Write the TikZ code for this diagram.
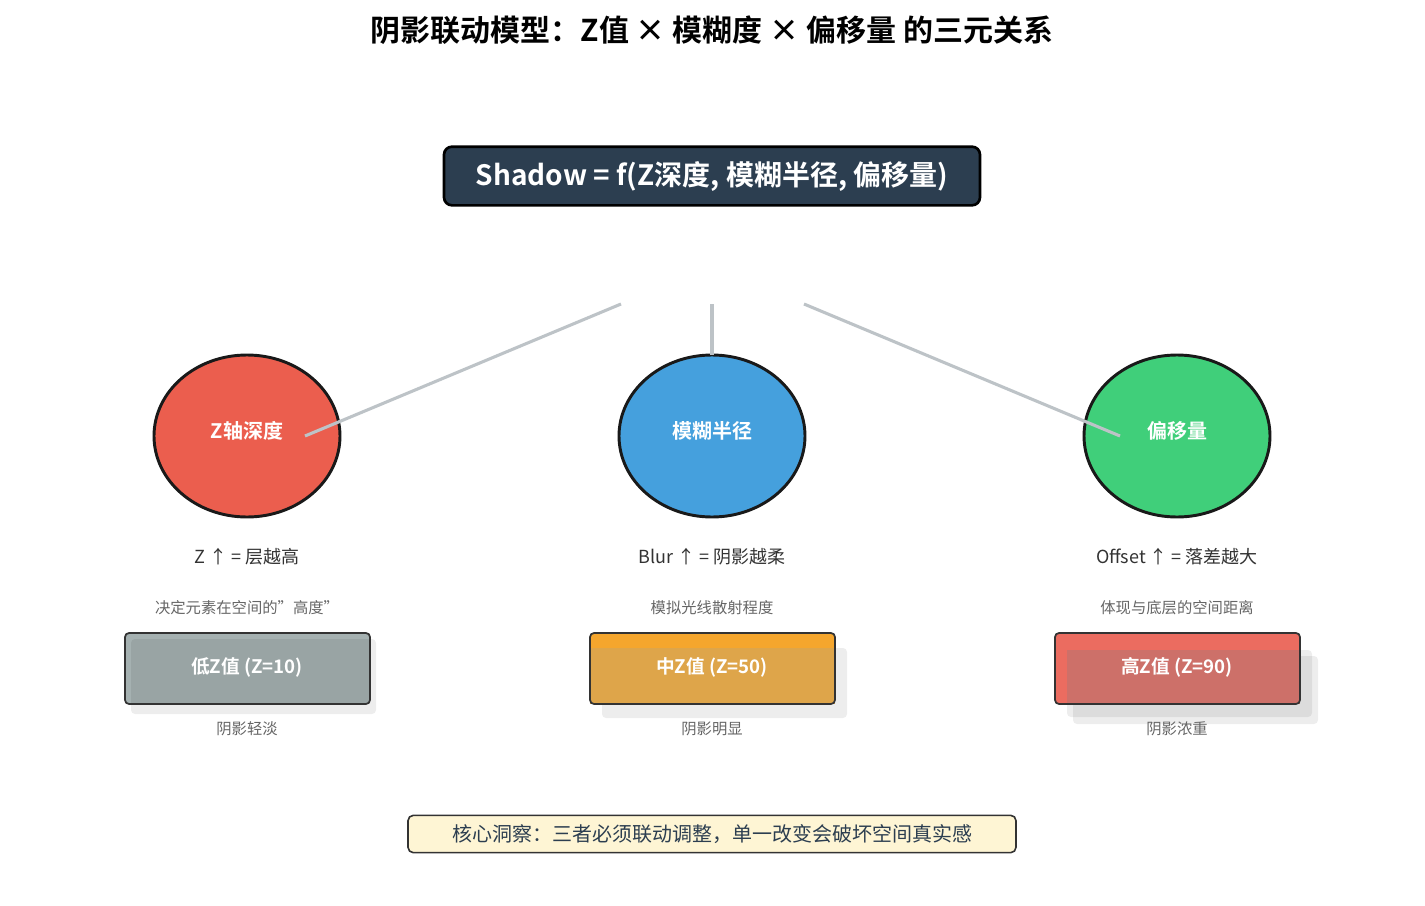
\documentclass[tikz,border=0pt]{standalone}
\usepackage{fontspec}
\setmainfont{Noto Sans CJK SC}
\newfontfamily\cjkb{Noto Sans CJK SC Bold}
\definecolor{navy}{RGB}{44,62,80}
\definecolor{cl}{RGB}{189,195,199}
\definecolor{cr}{RGB}{235,94,78}
\definecolor{cb}{RGB}{69,160,221}
\definecolor{cg}{RGB}{64,207,122}
\definecolor{bgray}{RGB}{165,177,177}
\definecolor{borange}{RGB}{222,165,74}
\definecolor{borange2}{RGB}{245,166,45}
\definecolor{bred}{RGB}{205,112,105}
\definecolor{bred2}{RGB}{235,108,96}
\definecolor{cream}{RGB}{254,245,212}
\definecolor{dk}{RGB}{51,51,51}
\definecolor{md}{RGB}{102,102,102}
\begin{document}
\begin{tikzpicture}[x=0.75pt,y=-0.75pt,
  lab/.style={font=\cjkb\fontsize{15}{15}\selectfont, text=white},
  blab/.style={font=\cjkb\fontsize{14}{14}\selectfont, text=white},
  sub/.style={font=\fontsize{13.5}{14}\selectfont, text=dk},
  note/.style={font=\fontsize{11.5}{12}\selectfont, text=md},
  bx/.style={draw=dk, line width=1.3pt, rounded corners=3pt},
  sh/.style={fill=black, opacity=0.07, rounded corners=3pt},
  conn/.style={draw=cl, line width=2.3pt},
  ell/.style={draw=black!90, line width=2.2pt}
]
\useasboundingbox[fill=white] (0,0) rectangle (1425,906);

\node (title) at (712,30) {\cjkb\fontsize{22.5}{24}\selectfont 阴影联动模型：Z值 × 模糊度 × 偏移量 的三元关系};

\node[fill=navy, draw=black, line width=2pt, rounded corners=6pt, minimum width=402pt, minimum height=44pt, text=white, font=\cjkb\fontsize{21}{22}\selectfont] (f) at (712,176) {Shadow = f(Z深度, 模糊半径, 偏移量)};

\coordinate (a1) at (621,304); \coordinate (a2) at (712,304); \coordinate (a3) at (804,304);

\draw[ell, fill=cr] (247,436) ellipse [x radius=93, y radius=81];
\draw[ell, fill=cb] (712,436) ellipse [x radius=93, y radius=81];
\draw[ell, fill=cg] (1177,436) ellipse [x radius=93, y radius=81];
\node[lab] (e1) at (247,431) {Z轴深度};
\node[lab] (e2) at (712,431) {模糊半径};
\node[lab] (e3) at (1177,431) {偏移量};
\coordinate (t1) at (305,436); \coordinate (t2) at (712,355); \coordinate (t3) at (1120,436);
\draw[conn] (a1) -- (t1);
\draw[conn] (a2) -- (t2);
\draw[conn] (a3) -- (t3);

\node[sub] (s1) at (247,557) {Z ↑ = 层越高};
\node[sub] (s2) at (712,557) {Blur ↑ = 阴影越柔};
\node[sub] (s3) at (1177,557) {Offset ↑ = 落差越大};
\node[note] (n1) at (247,608) {决定元素在空间的"高度"};
\node[note] (n2) at (712,608) {模拟光线散射程度};
\node[note] (n3) at (1177,608) {体现与底层的空间距离};

\fill[bgray, rounded corners=3pt] (125,633) rectangle (370,704);
\fill[sh] (131,639) rectangle (376,714);
\draw[bx] (125,633) rectangle (370,704);
\node[blab] (b1) at (247,667) {低Z值 (Z=10)};

\fill[borange2, rounded corners=3pt] (590,633) rectangle (835,704);
\fill[sh] (602,648) rectangle (847,718);
\fill[borange] (602,648) rectangle (835,704);
\fill[borange] (590,648) rectangle (602,704);
\draw[bx] (590,633) rectangle (835,704);
\node[blab] (b2) at (712,667) {中Z值 (Z=50)};

\fill[bred2, rounded corners=3pt] (1055,633) rectangle (1300,704);
\fill[sh] (1067,650) rectangle (1312,717);
\fill[sh] (1073,656) rectangle (1318,724);
\fill[bred] (1067,650) rectangle (1300,704);
\draw[bx] (1055,633) rectangle (1300,704);
\node[blab] (b3) at (1177,667) {高Z值 (Z=90)};

\node[note] (c1) at (247,729) {阴影轻淡};
\node[note] (c2) at (712,729) {阴影明显};
\node[note] (c3) at (1177,729) {阴影浓重};

\node[fill=cream, draw=dk, line width=1.2pt, rounded corners=4pt, minimum width=456pt, minimum height=28pt, text=navy, font=\fontsize{15}{16}\selectfont] (ins) at (712,834) {核心洞察：三者必须联动调整，单一改变会破坏空间真实感};
\end{tikzpicture}
\end{document}
